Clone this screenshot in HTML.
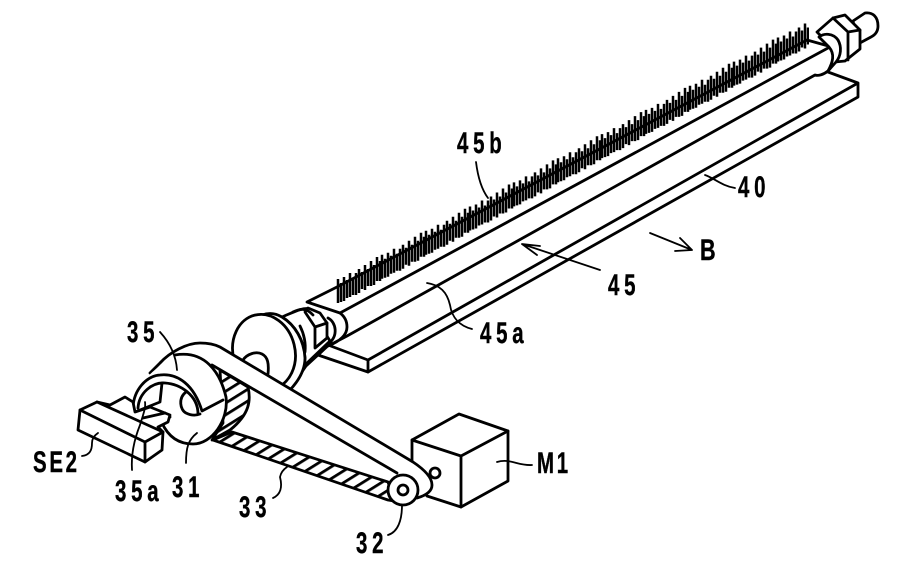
<!DOCTYPE html>
<html>
<head>
<meta charset="utf-8">
<style>
html,body{margin:0;padding:0;background:#fff;width:898px;height:567px;overflow:hidden}
svg{display:block}
.l{fill:none;stroke:#000;stroke-width:2.8;stroke-linejoin:round;stroke-linecap:round}
.w{fill:#fff;stroke:#000;stroke-width:2.8;stroke-linejoin:round;stroke-linecap:round}
.t{fill:none;stroke:#000;stroke-width:1.8;stroke-linecap:round;stroke-linejoin:round}
text{font-family:"Liberation Sans",sans-serif;font-weight:bold;font-size:30px;fill:#000;stroke:#000;stroke-width:.4;letter-spacing:7px}
</style>
</head>
<body>
<svg width="898" height="567" viewBox="0 0 898 567" xmlns="http://www.w3.org/2000/svg">
<defs>
<pattern id="h" width="10" height="10" patternUnits="userSpaceOnUse" patternTransform="rotate(-32)">
<rect width="10" height="10" fill="#fff"/>
<rect y="0" width="10" height="2.8" fill="#000"/>
</pattern>
<clipPath id="bc"><rect x="330" y="0" width="479" height="330"/></clipPath>
<g id="br" fill="none" stroke="#000" stroke-width="2.5">
<path d="M1 0V-24M4 -1V-20M7 -2V-26M10 -5V-23M13 -6V-30M16 -8V-25M19 -8V-30M22 -10V-34M25 -14V-31M28 -13V-38M31 -17V-34M34 -17V-42M37 -18V-38M40 -22V-46M43 -22V-42"/>
</g>
</defs>

<!-- plate 40 -->
<path class="w" d="M828 72L858 83V97L368 372L318 355L328 345L368 360L858 83"/>
<path class="l" d="M368 360V372"/>

<!-- bar 45 -->
<path class="w" d="M307 302L337 287L807 40L832 47C836 55 833 66 828 71C823 75 818 76 815 75L347 336L328 346C338 342 347 336 347 327C347 320 344 316 340 313Z"/>
<path class="l" d="M340 313L828 48"/>

<!-- brush -->
<g clip-path="url(#bc)">
<use href="#br" x="337" y="303"/><use href="#br" x="381" y="278.8"/><use href="#br" x="425" y="254.7"/>
<use href="#br" x="469" y="230.5"/><use href="#br" x="513" y="206.4"/><use href="#br" x="557" y="182.2"/>
<use href="#br" x="601" y="158.1"/><use href="#br" x="645" y="133.9"/><use href="#br" x="689" y="109.8"/>
<use href="#br" x="733" y="85.6"/><use href="#br" x="777" y="61.5"/>
</g>

<!-- right nut -->
<path class="w" d="M853 21L865 13C873 12 878 17 878 26C878 32 875 35 871 37L858 44Z"/>
<path class="w" d="M817 32L833 18L845 15L860 30V49L845 61L835 62L832 47Z"/>
<path class="l" d="M833 18L848 32V60M848 32L860 30"/>
<path class="w" d="M819 37C824 33 833 33 838 40C842 47 841 56 836 62L828 71C833 62 835 54 829 47Z"/>

<!-- left hub, nut -->
<path class="w" d="M282 317C294 312 303 307 310 309L330 341L307 363L288 392C298 380 305 370 305 358C304 340 295 325 282 317Z"/>
<path class="l" d="M331 343L306 366L297 379M328 318C336 322 339 336 328 344"/>
<path class="l" d="M300 326C304 334 306 342 305 352"/>
<path class="w" d="M305 312L308 308L320 313L327 323V338L315 348V327Z"/>
<path class="l" d="M315 327L327 323M293 312C299 309 306 307 313 315"/>
<path class="w" d="M262 315C270 312 277 314 282 317C295 325 304 340 305 358C305 370 298 382 288 392L280 380L262 315Z" />
<ellipse class="w" cx="264" cy="352" rx="31" ry="38" transform="rotate(-14 264 352)"/>
<path class="l" d="M243 360C247 354 256 351 262 354C268 357 269 364 268 374"/>

<!-- hatched flank and belt -->
<path d="M220 370L248 387C251 400 250 414 230 430L212 440L223 423Z" fill="url(#h)" stroke="#000" stroke-width="2.8" stroke-linejoin="round"/>
<path d="M213 440L232 432L388 482L394 501L388 500Z" fill="url(#h)" stroke="#000" stroke-width="2.8" stroke-linejoin="round"/>

<!-- motor -->
<path class="w" d="M412 440L459 414L508 431V481L461 507L427 496L412 470Z"/>
<path class="l" d="M412 440L461 456L508 431M461 456V507"/>
<circle class="w" cx="435" cy="473" r="5"/>

<!-- upper belt band -->
<path d="M150 373L160 363C170 352 187 343 200 343C208 343 214 344 220 347L413 462C425 470 432 478 432 485C432 492 424 496 417 498L397 473L212 365Z" fill="#fff"/>
<path class="l" d="M150 373L160 363C170 352 187 343 200 343C208 343 214 344 220 347L413 462C425 470 432 478 432 485C432 492 424 496 417 498"/>
<path class="l" d="M212 365L397 473"/>

<!-- small pulley -->
<circle class="w" cx="403" cy="490" r="15"/>
<circle class="l" cx="403" cy="490" r="5"/>

<!-- big pulley face -->
<path d="M133 407C135 385 150 372 175 355C205 350 225 376 227 400C227 426 212 444 193 444C178 444 168 436 162 423Z" fill="#fff"/>
<path class="l" d="M175 355C205 350 220 372 226 397C229 420 212 444 193 444C178 444 168 436 162 423L170 417"/>

<!-- encoder 35 -->
<path class="l" d="M133 407C134 390 146 376 160 375C178 373 194 385 202 411L223 400"/>
<path class="l" d="M138 408C139 393 152 382 165 383C180 384 198 395 198 414"/>
<path class="l" d="M186 392C178 398 180 410 186 413C190 415 195 416 200 414"/>
<path class="l" d="M162 383L160 402L135 412"/>

<!-- sensor SE2 -->
<path class="w" d="M110 405L125 397L133 402L135 412L150 407L170 415L168 422L158 427L163 432L162 450L145 462L78 430L80 410L97 402Z"/>
<path class="l" d="M80 410L145 442L163 432M145 442V462M97 402L163 432M143 418L165 413"/>

<!-- leaders -->
<path class="t" d="M476 162C478 178 482 190 488 198"/>
<path class="t" d="M600 270L522 244M540 246L522 244L537 255"/>
<path class="t" d="M427 283C440 285 447 292 450 305C452 318 460 326 472 329"/>
<path class="t" d="M705 175C714 178 722 186 735 188"/>
<path class="t" d="M650 233L692 250M680 238L692 250L675 251"/>
<path class="t" d="M160 332C170 343 176 355 177 370"/>
<path class="t" d="M82 456C90 455 92 450 92 443C92 438 95 435 98 433"/>
<path class="t" d="M132 470C131 455 134 440 140 425C143 415 146 408 145 402"/>
<path class="t" d="M186 463C186 448 188 440 197 433"/>
<path class="t" d="M273 498C282 494 282 485 280 477C281 472 284 469 287 467"/>
<path class="t" d="M388 535C398 532 402 520 402 505"/>
<path class="t" d="M497 462C510 458 518 466 532 465"/>

<!-- labels -->
<text transform="translate(457 153) scale(.68 1)">45b</text>
<text transform="translate(738 197) scale(.68 1)">40</text>
<text transform="translate(700 260) scale(.72 1)">B</text>
<text transform="translate(608 295) scale(.68 1)">45</text>
<text transform="translate(480 343) scale(.68 1)">45a</text>
<text transform="translate(127 342) scale(.68 1)">35</text>
<text transform="translate(33 472) scale(.68 1)" style="letter-spacing:4px">SE2</text>
<text transform="translate(115 501) scale(.68 1)">35a</text>
<text transform="translate(172 497) scale(.68 1)">31</text>
<text transform="translate(239 517) scale(.68 1)">33</text>
<text transform="translate(356 553) scale(.68 1)">32</text>
<text transform="translate(537 473) scale(.68 1)" style="letter-spacing:4px">M1</text>
</svg>
</body>
</html>
